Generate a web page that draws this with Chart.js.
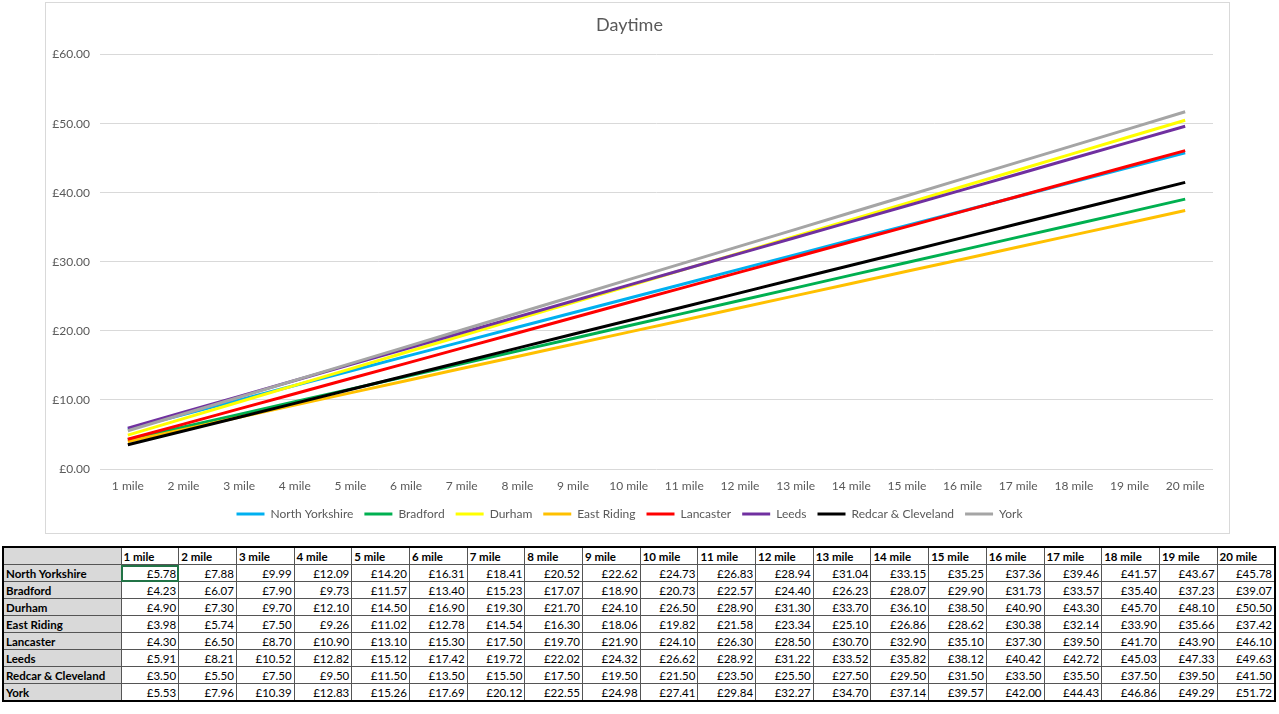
<!DOCTYPE html>
<html>
<head>
<meta charset="utf-8">
<script src="https://cdn.jsdelivr.net/npm/chart.js@4"></script>
<style>
  body { margin: 0; background: #fff; font-family: Lato, "Liberation Sans", sans-serif; }
  #moldura { position: absolute; left: 45px; top: 2px; width: 1185px; height: 532px; border: 1px solid #d9d9d9; box-sizing: border-box; }
  #tabela { position: absolute; left: 2px; top: 546px; width: 1274px; border-collapse: collapse; table-layout: fixed; border: 2px solid #000; font-size: 11.5px; color: #000; }
  #tabela td { height: 16px; padding: 0 2px; border: 1px solid #555; white-space: nowrap; overflow: hidden; line-height: 15px; }
  #tabela td.val { text-align: right; }
  #tabela td.cab { font-weight: bold; text-align: left; }
  #tabela td.nome { font-weight: bold; background: #d9d9d9; }
  #tabela td.sel { outline: 2px solid #217346; outline-offset: -2px; }
</style>
</head>
<body>
<div id="moldura"><canvas id="grafico-tarifas"></canvas></div>
<table id="tabela"></table>
<script>
// Categories and tick values
const categorias = ['1 mile', '2 mile', '3 mile', '4 mile', '5 mile', '6 mile', '7 mile', '8 mile', '9 mile', '10 mile',
  '11 mile', '12 mile', '13 mile', '14 mile', '15 mile', '16 mile', '17 mile', '18 mile', '19 mile', '20 mile'];
const ticksY = [0, 10, 20, 30, 40, 50, 60];

// Fares per authority (daytime)
const northYorkshire = [5.78, 7.88, 9.99, 12.09, 14.20, 16.31, 18.41, 20.52, 22.62, 24.73, 26.83, 28.94, 31.04, 33.15, 35.25, 37.36, 39.46, 41.57, 43.67, 45.78];
const bradford = [4.23, 6.07, 7.90, 9.73, 11.57, 13.40, 15.23, 17.07, 18.90, 20.73, 22.57, 24.40, 26.23, 28.07, 29.90, 31.73, 33.57, 35.40, 37.23, 39.07];
const durham = [4.90, 7.30, 9.70, 12.10, 14.50, 16.90, 19.30, 21.70, 24.10, 26.50, 28.90, 31.30, 33.70, 36.10, 38.50, 40.90, 43.30, 45.70, 48.10, 50.50];
const eastRiding = [3.98, 5.74, 7.50, 9.26, 11.02, 12.78, 14.54, 16.30, 18.06, 19.82, 21.58, 23.34, 25.10, 26.86, 28.62, 30.38, 32.14, 33.90, 35.66, 37.42];
const lancaster = [4.30, 6.50, 8.70, 10.90, 13.10, 15.30, 17.50, 19.70, 21.90, 24.10, 26.30, 28.50, 30.70, 32.90, 35.10, 37.30, 39.50, 41.70, 43.90, 46.10];
const leeds = [5.91, 8.21, 10.52, 12.82, 15.12, 17.42, 19.72, 22.02, 24.32, 26.62, 28.92, 31.22, 33.52, 35.82, 38.12, 40.42, 42.72, 45.03, 47.33, 49.63];
const redcar = [3.50, 5.50, 7.50, 9.50, 11.50, 13.50, 15.50, 17.50, 19.50, 21.50, 23.50, 25.50, 27.50, 29.50, 31.50, 33.50, 35.50, 37.50, 39.50, 41.50];
const york = [5.53, 7.96, 10.39, 12.83, 15.26, 17.69, 20.12, 22.55, 24.98, 27.41, 29.84, 32.27, 34.70, 37.14, 39.57, 42.00, 44.43, 46.86, 49.29, 51.72];

const series = [
  { nome: 'North Yorkshire', dados: northYorkshire, cor: '#00b0f0' },
  { nome: 'Bradford', dados: bradford, cor: '#00b050' },
  { nome: 'Durham', dados: durham, cor: '#ffff00' },
  { nome: 'East Riding', dados: eastRiding, cor: '#ffc000' },
  { nome: 'Lancaster', dados: lancaster, cor: '#ff0000' },
  { nome: 'Leeds', dados: leeds, cor: '#7030a0' },
  { nome: 'Redcar & Cleveland', dados: redcar, cor: '#000000' },
  { nome: 'York', dados: york, cor: '#a5a5a5' }
];

const libra = v => '£' + Number(v).toFixed(2);

document.addEventListener('DOMContentLoaded', function () {
  const ctx = document.getElementById('grafico-tarifas').getContext('2d');

  const dados = {
    labels: categorias,
    datasets: series.map((s, i) => ({
      label: s.nome,
      data: s.dados,
      borderColor: s.cor,
      backgroundColor: s.cor,
      borderWidth: 3,
      pointRadius: 0,
      tension: 0,
      order: series.length - i // last series drawn on top, like Excel
    }))
  };

  const config = {
    type: 'line',
    data: dados,
    options: {
      responsive: true,
      maintainAspectRatio: false,
      animation: false,
      layout: { padding: { left: 0, right: 16, top: 0, bottom: 3 } },
      plugins: {
        title: {
          display: true,
          text: 'Daytime',
          color: '#595959',
          font: { family: 'Lato', size: 18, weight: 'normal' },
          padding: { top: 11, bottom: 19 }
        },
        legend: {
          position: 'bottom',
          labels: {
            color: '#595959',
            font: { family: 'Lato', size: 12 },
            boxWidth: 28,
            boxHeight: 3,
            padding: 11,
            sort: (a, b) => a.datasetIndex - b.datasetIndex,
            generateLabels: function (chart) {
              return Chart.defaults.plugins.legend.labels.generateLabels(chart)
                .map(l => Object.assign(l, { lineWidth: 0, fillStyle: l.strokeStyle }));
            }
          }
        },
        tooltip: { enabled: false }
      },
      scales: {
        x: {
          offset: true,
          afterFit: function (scale) { scale.height = 28; },
          grid: { display: false, drawTicks: false },
          border: { display: false },
          ticks: { color: '#595959', font: { family: 'Lato', size: 12 }, padding: 10, maxRotation: 0, autoSkip: false }
        },
        y: {
          min: ticksY[0],
          max: ticksY[ticksY.length - 1],
          afterFit: function (scale) { scale.width = 54; },
          afterBuildTicks: function (scale) { scale.ticks = ticksY.map(v => ({ value: v })); },
          grid: { color: '#d9d9d9', lineWidth: 1, drawTicks: false },
          border: { display: false },
          ticks: { color: '#595959', font: { family: 'Lato', size: 12 }, padding: 10, callback: v => libra(v) }
        }
      }
    }
  };

  const meuGrafico = new Chart(ctx, config);

  // Data table under the chart, built from the same arrays
  const tabela = document.getElementById('tabela');
  let html = '<colgroup><col style="width:118px">' + categorias.map(() => '<col>').join('') + '</colgroup>';
  html += '<tr><td class="nome"></td>' + categorias.map(c => '<td class="cab">' + c + '</td>').join('') + '</tr>';
  series.forEach((s, i) => {
    html += '<tr><td class="nome">' + s.nome.replace('&', '&amp;') + '</td>' +
      s.dados.map((v, j) => '<td class="val' + (i === 0 && j === 0 ? ' sel' : '') + '">' + libra(v) + '</td>').join('') + '</tr>';
  });
  tabela.innerHTML = html;
});
</script>
</body>
</html>
